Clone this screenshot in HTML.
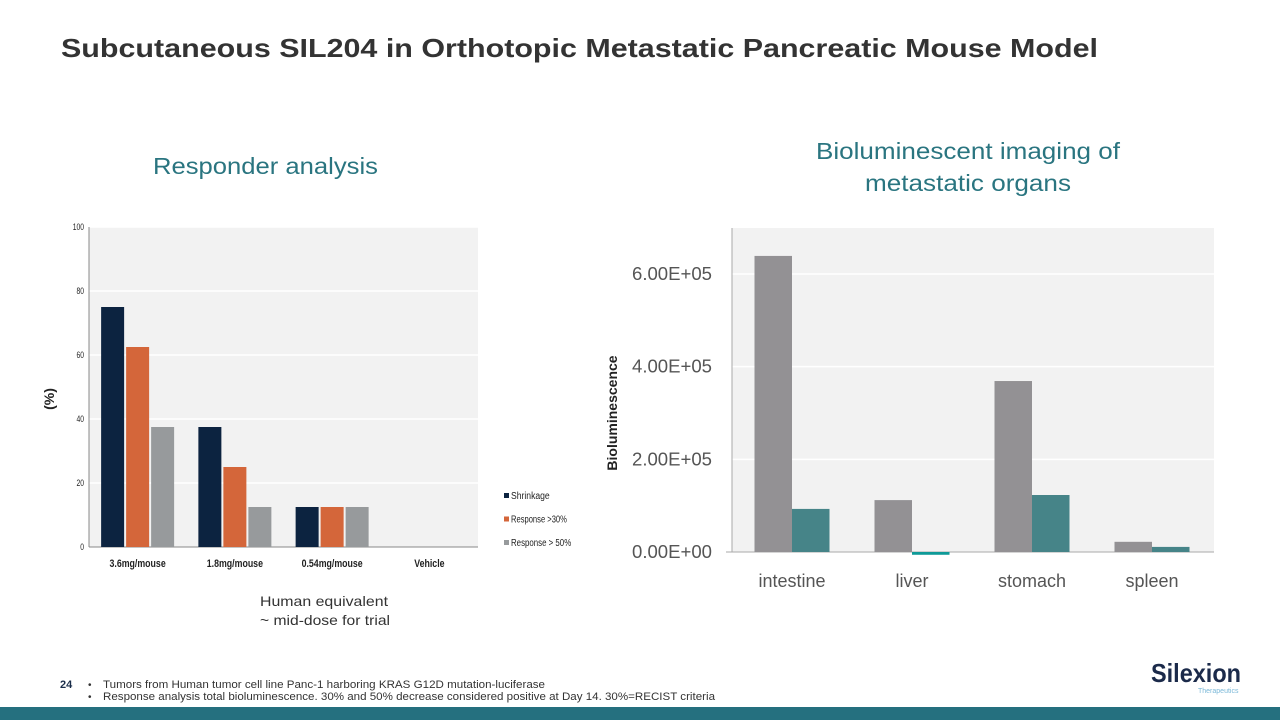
<!DOCTYPE html>
<html><head><meta charset="utf-8"><style>
body{margin:0;width:1280px;height:720px;background:#fff;font-family:"Liberation Sans",sans-serif;position:relative;overflow:hidden}
.abs{position:absolute}
</style></head><body>
<svg class="abs" style="left:0;top:0" width="1280" height="720">
<text x="61" y="57" font-size="26" font-weight="bold" fill="#333" textLength="1037" lengthAdjust="spacingAndGlyphs">Subcutaneous SIL204 in Orthotopic Metastatic Pancreatic Mouse Model</text>
<text x="153" y="174" font-size="23" fill="#2a7580" textLength="225" lengthAdjust="spacingAndGlyphs">Responder analysis</text>
<text x="816" y="159" font-size="23" fill="#2a7580" textLength="304" lengthAdjust="spacingAndGlyphs">Bioluminescent imaging of</text>
<text x="865" y="191" font-size="23" fill="#2a7580" textLength="206" lengthAdjust="spacingAndGlyphs">metastatic organs</text>
<text x="260" y="606" font-size="14" fill="#333" textLength="128" lengthAdjust="spacingAndGlyphs">Human equivalent</text>
<text x="260" y="625" font-size="14" fill="#333" textLength="130" lengthAdjust="spacingAndGlyphs">~ mid-dose for trial</text>
<g id="left"></g>
<g id="right"></g>
<text x="60" y="688" font-size="11" font-weight="bold" fill="#1a2d4a">24</text>
<text x="88" y="688" font-size="10" fill="#333">•</text>
<text x="88" y="700" font-size="10" fill="#333">•</text>
<text x="103" y="688" font-size="11" fill="#333" textLength="442" lengthAdjust="spacingAndGlyphs">Tumors from Human tumor cell line Panc-1 harboring KRAS G12D mutation-luciferase</text>
<text x="103" y="700" font-size="11" fill="#333" textLength="612" lengthAdjust="spacingAndGlyphs">Response analysis total bioluminescence.  30% and 50% decrease considered positive at Day 14.  30%=RECIST criteria</text>
<g>
<text x="1151" y="682" font-size="26" font-weight="bold" fill="#1b2a4a" textLength="90" lengthAdjust="spacingAndGlyphs">Silexion</text>
<text x="1198" y="693" font-size="7" fill="#7ab8d8">Therapeutics</text>
</g>
<rect x="0" y="707" width="1280" height="13" fill="#25707f"/>
</svg>
<script>
const NS='http://www.w3.org/2000/svg';
function mk(p,t,a){const e=document.createElementNS(NS,t);for(const k in a)e.setAttribute(k,a[k]);p.appendChild(e);return e;}
// Left chart data
const doseCats=['3.6mg/mouse','1.8mg/mouse','0.54mg/mouse','Vehicle'];
const shrinkage=[75,37.5,12.5,0];
const resp30=[62.5,25,12.5,0];
const resp50=[37.5,12.5,12.5,0];
const leftTicks=[0,20,40,60,80,100];
const leftSeriesNames=['Shrinkage','Response >30%','Response > 50%'];
// Right chart data
const organs=['intestine','liver','stomach','spleen'];
const bioA=[639000,112000,369000,22000];
const bioB=[93000,-6000,123000,11000];
const rightTicks=[0,200000,400000,600000];
const rightTickLabels=['0.00E+00','2.00E+05','4.00E+05','6.00E+05'];

(function(){
const g=document.getElementById('left');
const x0=89,x1=478,yT=227,yB=547;
const y=v=>yB-(v/100)*(yB-yT);
const bg=mk(g,'rect',{x:x0,y:yT,width:x1-x0,height:yB-yT,fill:'#f2f2f2'});


leftTicks.forEach(t=>{
  if(t>0){const l=mk(g,'line',{x1:x0,x2:x1,y1:y(t),y2:y(t),stroke:'#fff','stroke-width':1.5});
  
  }
  const tx=mk(g,'text',{x:x0-5,y:y(t)+3,'text-anchor':'end','font-size':9,fill:'#222',transform:`translate(${x0-5},${y(t)}) scale(0.75,1) translate(${-(x0-5)},${-y(t)})`});
  tx.textContent=t;
  
  
});
mk(g,'line',{x1:x0,x2:x0,y1:yT,y2:yB,stroke:'#888'});
mk(g,'line',{x1:x0,x2:x1,y1:yB,y2:yB,stroke:'#888'});
const cw=(x1-x0)/doseCats.length,bw=23,gap=2;
const series=[shrinkage,resp30,resp50],cols=['#0c2340','#d4663a','#979a9c'];
doseCats.forEach((c,i)=>{
  const cx=x0+cw*(i+0.5);
  series.forEach((s,j)=>{
    const bx=cx-(bw*1.5+gap)+j*(bw+gap);
    const r=mk(g,'rect',{x:bx,y:y(s[i]),width:bw,height:yB-y(s[i]),fill:cols[j]});
    
    
  });
  const t=mk(g,'text',{x:cx,y:567,'text-anchor':'middle','font-size':11,'font-weight':'bold',fill:'#222',transform:`translate(${cx},567) scale(0.8,1) translate(${-cx},-567)`});
  t.textContent=c;
  
  
});
const yl=mk(g,'text',{x:0,y:0,'text-anchor':'middle','font-size':14,'font-weight':'bold',fill:'#222',transform:'translate(54,399) rotate(-90)'});
yl.textContent='(%)';


leftSeriesNames.forEach((n,j)=>{
  const yy=499+j*23.5;
  const sq=mk(g,'rect',{x:504,y:yy-6,width:5,height:5,fill:cols[j]});
  
  
  const t=mk(g,'text',{x:511,y:yy,'font-size':10,fill:'#222',textLength:n.length*4.3,lengthAdjust:'spacingAndGlyphs'});
  t.textContent=n;
  
  
});
})();

(function(){
const g=document.getElementById('right');
const x0=732,x1=1214,yT=228,yB=552;
const scale=(552-274)/600000;
const y=v=>yB-v*scale;
const bg=mk(g,'rect',{x:x0,y:yT,width:x1-x0,height:yB-yT,fill:'#f2f2f2'});


rightTicks.forEach((t,i)=>{
  if(t>0){const l=mk(g,'line',{x1:x0,x2:x1,y1:y(t),y2:y(t),stroke:'#fff','stroke-width':1.5});
  
  }
  const tx=mk(g,'text',{x:632,y:y(t)+6,'font-size':18,fill:'#555',textLength:80,lengthAdjust:'spacingAndGlyphs'});
  tx.textContent=rightTickLabels[i];
  
  
});
mk(g,'line',{x1:x0,x2:x0,y1:yT,y2:yB,stroke:'#aaa'});
mk(g,'line',{x1:x0-6,x2:x1,y1:yB,y2:yB,stroke:'#aaa'});
const cw=120,bw=37.5;
organs.forEach((o,i)=>{
  const cx=x0+cw*(i+0.5);
  [bioA,bioB].forEach((s,j)=>{
    const v=s[i];const top=v>=0?y(v):yB;const h=Math.abs(v*scale);
    const fill=j===0?'#939194':(v<0?'#0e9a98':'#468488');
    const r=mk(g,'rect',{x:cx-bw+j*bw,y:top,width:bw,height:Math.max(h,1),fill:fill});
    
    
  });
  const t=mk(g,'text',{x:cx,y:587,'text-anchor':'middle','font-size':18,fill:'#555'});
  t.textContent=o;
  
  
});
const yl=mk(g,'text',{x:0,y:0,'text-anchor':'middle','font-size':14,'font-weight':'bold',fill:'#222',transform:'translate(617,413) rotate(-90)'});
yl.textContent='Bioluminescence';


})();
</script>
</body></html>
